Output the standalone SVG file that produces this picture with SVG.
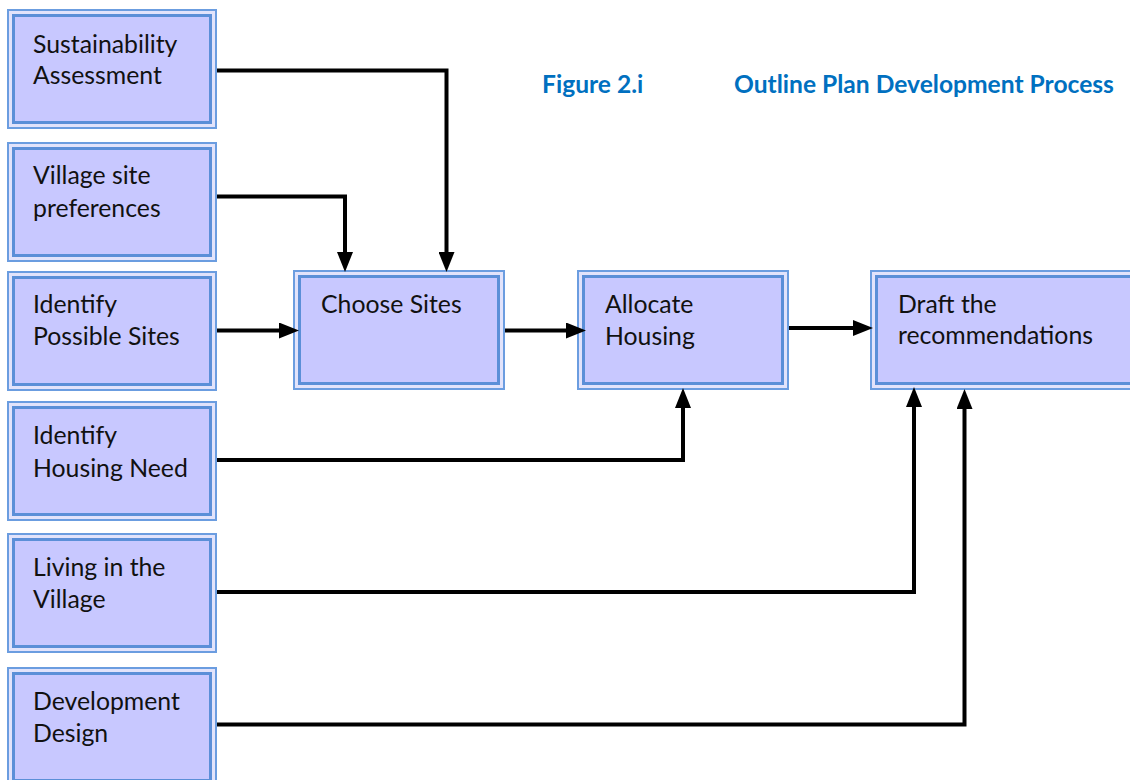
<svg xmlns="http://www.w3.org/2000/svg" width="1130" height="780" viewBox="0 0 1130 780">
<style>
.o{fill:#e2e3fb;stroke:#6b9de0;stroke-width:2}
.i{fill:#c8c8ff;stroke:#5b8fd8;stroke-width:3}
.t{font-family:Lato,"Liberation Sans",sans-serif;font-size:24.8px;fill:#111}
.h{font-family:Lato,"Liberation Sans",sans-serif;font-size:24.6px;font-weight:bold;fill:#0070c0}
.c{fill:none;stroke:#000;stroke-width:4;stroke-linejoin:miter;stroke-linecap:butt}
</style>
<defs>
<marker id="ah" markerUnits="userSpaceOnUse" viewBox="0 0 20 16" refX="2" refY="8" markerWidth="20" markerHeight="16" orient="auto">
<path d="M0,0 L20,8 L0,16 z" fill="#000"/>
</marker>
</defs>
<rect width="1130" height="780" fill="#fff"/>
<g id="title">
<text class="h" x="542" y="93">Figure 2.i</text>
<text class="h" x="734" y="93">Outline Plan Development Process</text>
</g>
<g id="n1" transform="translate(7,9)">
<rect class="o" x="1" y="1" width="208" height="118"/><rect class="i" x="6.5" y="6.5" width="197" height="107"/>
<text class="t" x="26" y="44">Sustainability</text><text class="t" x="26" y="75">Assessment</text>
</g>
<g id="n2" transform="translate(7,142)">
<rect class="o" x="1" y="1" width="208" height="118"/><rect class="i" x="6.5" y="6.5" width="197" height="107"/>
<text class="t" x="26" y="42">Village site</text><text class="t" x="26" y="75">preferences</text>
</g>
<g id="n3" transform="translate(7,271)">
<rect class="o" x="1" y="1" width="208" height="118"/><rect class="i" x="6.5" y="6.5" width="197" height="107"/>
<text class="t" x="26" y="42">Identify</text><text class="t" x="26" y="74">Possible Sites</text>
</g>
<g id="n4" transform="translate(7,401)">
<rect class="o" x="1" y="1" width="208" height="118"/><rect class="i" x="6.5" y="6.5" width="197" height="107"/>
<text class="t" x="26" y="43">Identify</text><text class="t" x="26" y="76">Housing Need</text>
</g>
<g id="n5" transform="translate(7,533)">
<rect class="o" x="1" y="1" width="208" height="118"/><rect class="i" x="6.5" y="6.5" width="197" height="107"/>
<text class="t" x="26" y="43">Living in the</text><text class="t" x="26" y="75">Village</text>
</g>
<g id="n6" transform="translate(7,667)">
<rect class="o" x="1" y="1" width="208" height="118"/><rect class="i" x="6.5" y="6.5" width="197" height="107"/>
<text class="t" x="26" y="43">Development</text><text class="t" x="26" y="75">Design</text>
</g>
<g id="n7" transform="translate(293,270)">
<rect class="o" x="1" y="1" width="210" height="118"/><rect class="i" x="6.5" y="6.5" width="199" height="107"/>
<text class="t" x="28" y="43">Choose Sites</text>
</g>
<g id="n8" transform="translate(577,270)">
<rect class="o" x="1" y="1" width="210" height="118"/><rect class="i" x="6.5" y="6.5" width="199" height="107"/>
<text class="t" x="28" y="43">Allocate</text><text class="t" x="28" y="75">Housing</text>
</g>
<g id="n9" transform="translate(870,270)">
<rect class="o" x="1" y="1" width="290" height="118"/><rect class="i" x="6.5" y="6.5" width="279" height="107"/>
<text class="t" x="28" y="43">Draft the</text><text class="t" x="28" y="74">recommendations</text>
</g>
<g id="connectors">
<path class="c" d="M217,70.5 H446.5 V254" marker-end="url(#ah)"/>
<path class="c" d="M217,196.5 H345 V254" marker-end="url(#ah)"/>
<path class="c" d="M217,330.5 H281" marker-end="url(#ah)"/>
<path class="c" d="M505,330.5 H568" marker-end="url(#ah)"/>
<path class="c" d="M789,328 H855" marker-end="url(#ah)"/>
<path class="c" d="M217,460 H683 V406" marker-end="url(#ah)"/>
<path class="c" d="M217,592 H914 V405" marker-end="url(#ah)"/>
<path class="c" d="M217,724.5 H964.5 V407" marker-end="url(#ah)"/>
</g>
</svg>
